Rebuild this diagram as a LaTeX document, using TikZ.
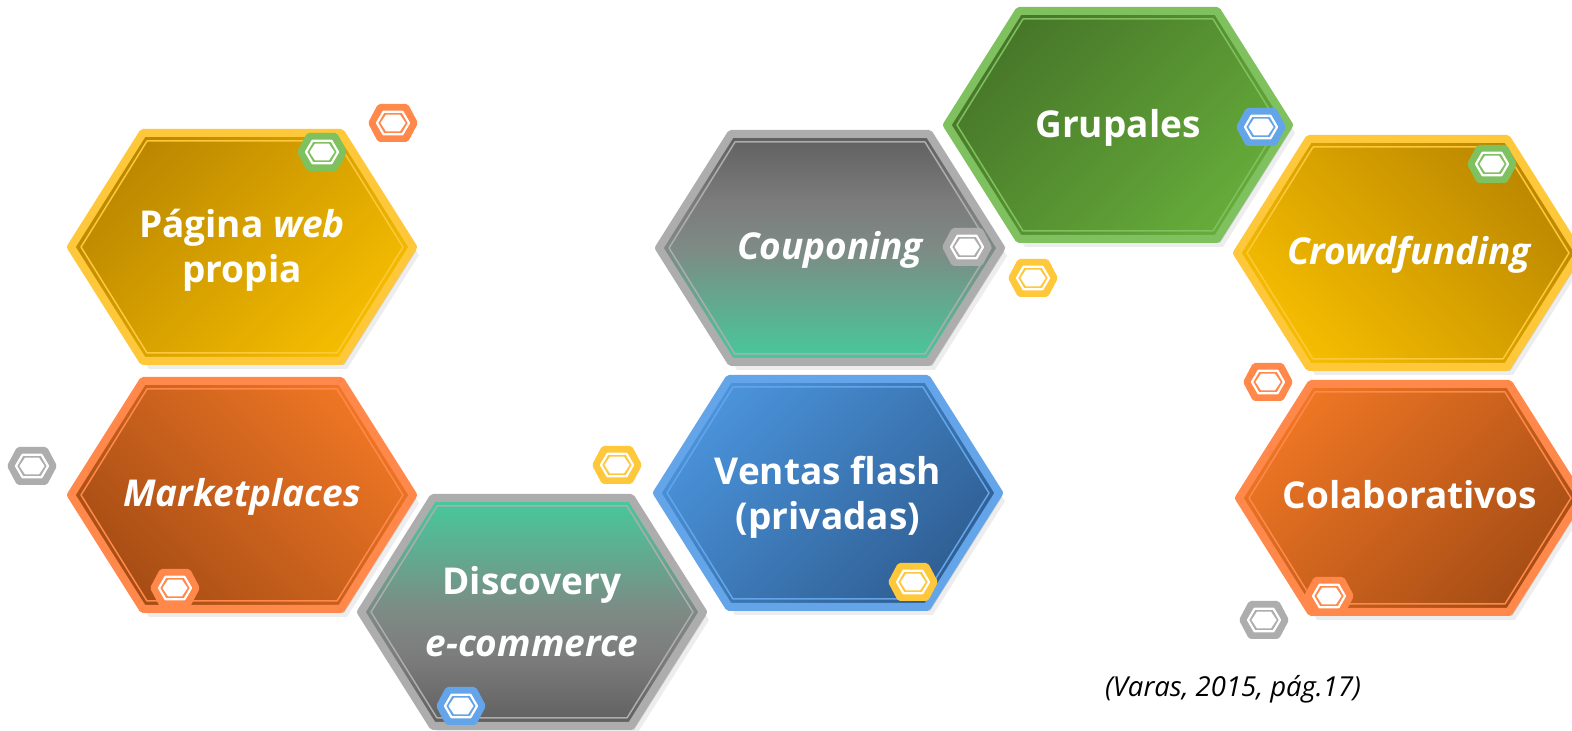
\documentclass[tikz,border=0pt]{standalone}
\usepackage{fontspec}
\setmainfont{Open Sans}

\definecolor{oroOsc}{HTML}{BB8700}
\definecolor{oroCla}{HTML}{F5BD00}
\definecolor{oroBor}{HTML}{FFC73A}
\definecolor{najOsc}{HTML}{A64D15}
\definecolor{najCla}{HTML}{EE7624}
\definecolor{najBor}{HTML}{FF884A}
\definecolor{grisOsc}{HTML}{5F5F5F}
\definecolor{grisCla}{HTML}{7C7C7C}
\definecolor{grisMed}{HTML}{7E8A85}
\definecolor{verdeAg}{HTML}{45CA9C}
\definecolor{grisBor}{HTML}{ADADAD}
\definecolor{azulCla}{HTML}{4A93DB}
\definecolor{azulOsc}{HTML}{2F5E92}
\definecolor{azulBor}{HTML}{63A5E8}
\definecolor{verdeOsc}{HTML}{477629}
\definecolor{verdeCla}{HTML}{66AC3A}
\definecolor{verdeBor}{HTML}{7EC15E}

\pgfdeclareverticalshading{cupon}{100bp}{color(0bp)=(verdeAg); color(25bp)=(verdeAg); color(50bp)=(grisMed); color(60bp)=(grisCla); color(75bp)=(grisOsc); color(100bp)=(grisOsc)}
\pgfdeclareverticalshading{discov}{100bp}{color(0bp)=(grisOsc); color(25bp)=(grisOsc); color(40bp)=(grisCla); color(50bp)=(grisMed); color(75bp)=(verdeAg); color(100bp)=(verdeAg)}

\tikzset{
  hexlabel/.style={text=white, font=\bfseries\fontsize{37}{45}\selectfont, align=center, inner sep=0pt},
  hexlabelit/.style={hexlabel, font=\bfseries\itshape\fontsize{37}{45}\selectfont},
  hexshadow/.style={fill=black, opacity=#1},
  hexedge/.style={draw=#1, line width=8pt, line join=round},
  hexline/.style={draw=#1, line width=1.5pt, line join=round},
  minifill/.style={fill=#1, rounded corners=2pt},
  miniline/.style={draw=white, line width=2.2pt, line join=round},
  cita/.style={font=\itshape\fontsize{27.5}{32}\selectfont, inner sep=0pt}
}

% hexagono: centro (x,y), semiancho, semialto, semilado superior
\newcommand{\hexpath}[5]{({#1-(#3)},{#2}) -- ({#1-(#5)},{#2+(#4)}) -- ({#1+(#5)},{#2+(#4)}) -- ({#1+(#3)},{#2}) -- ({#1+(#5)},{#2-(#4)}) -- ({#1-(#5)},{#2-(#4)}) -- cycle}

% hexagono grande: x, y, borde, relleno
\newcommand{\bighex}[4]{%
  \fill[hexshadow=0.07] \hexpath{#1+6}{#2-8}{171}{114}{99};
  \fill[hexshadow=0.12] \hexpath{#1+3}{#2-4}{171}{114}{99};
  \shade[#4, hexedge=#3] \hexpath{#1}{#2}{171}{114}{99};
  \path[hexline=#3] \hexpath{#1}{#2}{161}{106}{95};}

% hexagono chico: x, y, color
\newcommand{\minihex}[3]{%
  \fill[minifill=#3] \hexpath{#1}{#2}{25}{19}{15};
  \path[miniline] \hexpath{#1}{#2}{16}{11.2}{9.5};
  \fill[white] \hexpath{#1}{#2}{12.5}{8.3}{7};}

\begin{document}
\begin{tikzpicture}[x=1pt, y=1pt]
  \useasboundingbox (0,0) rectangle (1572,731);
  \fill[white] (0,0) rectangle (1572,731);
  \clip (0,0) rectangle (1572,731);

  % Hexagonos grandes
  \bighex{242}{484}{oroBor}{top color=oroOsc, bottom color=oroCla, shading angle=45}
  \bighex{242}{236}{najBor}{top color=najCla, bottom color=najOsc, shading angle=-45}
  \bighex{532}{119}{grisBor}{shading=discov}
  \bighex{830}{483}{grisBor}{shading=cupon}
  \bighex{828}{238}{azulBor}{top color=azulCla, bottom color=azulOsc, shading angle=45}
  \bighex{1118}{606}{verdeBor}{top color=verdeOsc, bottom color=verdeCla, shading angle=45}
  \bighex{1408}{478}{oroBor}{top color=oroOsc, bottom color=oroCla, shading angle=-45}
  \bighex{1410}{233}{najBor}{top color=najCla, bottom color=najOsc, shading angle=45}

  % Textos
  \node[hexlabel] (pagina) at (242,481) {P\'agina \textit{web}\\propia};
  \node[hexlabelit, anchor=base] (market) at (242,224) {Marketplaces};
  \node[hexlabel] (discovery) at (532,119) {Discovery\\[17pt]\textit{e-commerce}};
  \node[hexlabelit, anchor=base] (coupon) at (830,471) {Couponing};
  \node[hexlabel] (ventas) at (828,234) {Ventas flash\\(privadas)};
  \node[hexlabel, anchor=base] (grupales) at (1118,593) {Grupales};
  \node[hexlabelit, anchor=base] (crowd) at (1409,466) {Crowdfunding};
  \node[hexlabel, anchor=base] (colab) at (1410,222) {Colaborativos};

  % Hexagonos chicos
  \minihex{393}{608}{najBor}
  \minihex{322}{579}{verdeBor}
  \minihex{32}{265}{grisBor}
  \minihex{175}{143}{najBor}
  \minihex{617}{266}{oroBor}
  \minihex{461}{25}{azulBor}
  \minihex{967}{484}{grisBor}
  \minihex{1033}{453}{oroBor}
  \minihex{1261}{604}{azulBor}
  \minihex{1492}{567}{verdeBor}
  \minihex{1268}{349}{najBor}
  \minihex{1329}{135}{najBor}
  \minihex{1264}{111}{grisBor}
  \minihex{913}{149}{oroBor}

  % Fuente
  \node[cita, anchor=base] (fuente) at (1233,34) {(Varas, 2015, p\'ag.17)};
\end{tikzpicture}
\end{document}
